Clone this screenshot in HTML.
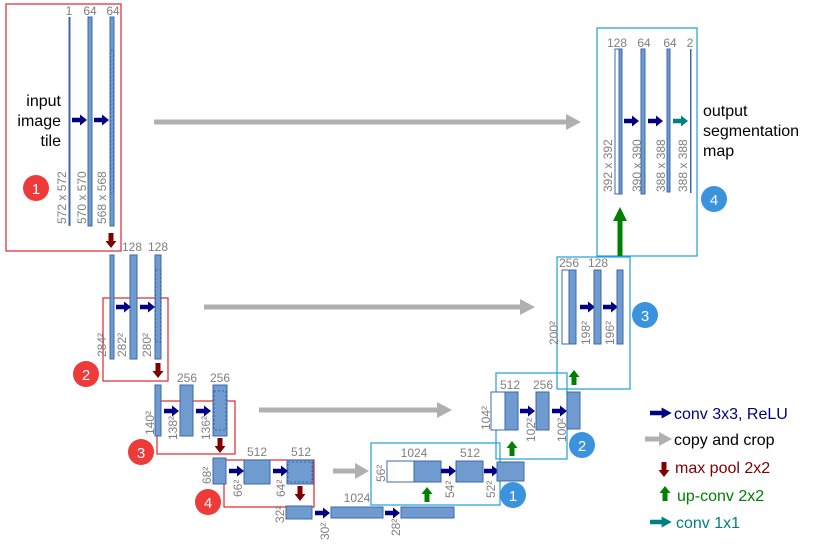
<!DOCTYPE html>
<html><head><meta charset="utf-8"><style>
html,body{margin:0;padding:0;background:#fff;}
svg{display:block;}
text{font-family:"Liberation Sans",sans-serif;}
.l{fill:#7f7f7f;font-size:12px;text-anchor:middle;}
.r{fill:#7f7f7f;font-size:12px;}
.b{fill:#6f9bd1;stroke:#3d68a8;stroke-width:1;}
.w{fill:#fff;stroke:#3d68a8;stroke-width:1;}
.d{fill:none;stroke:#3d68a8;stroke-width:1;stroke-dasharray:2,2;}
.rb{fill:none;stroke:#e0262b;stroke-width:1.2;}
.bb{fill:none;stroke:#1da1db;stroke-width:1.2;}
.t{font-size:16px;fill:#000;}
</style></head><body>
<svg width="815" height="547" viewBox="0 0 815 547" xmlns="http://www.w3.org/2000/svg">
<defs>
<polygon id="na" points="0,-2.2 8,-2.2 8,-5.5 15,0 8,5.5 8,2.2 0,2.2" fill="#000080"/>
<polygon id="ta" points="0,-2.2 8,-2.2 8,-5.5 15,0 8,5.5 8,2.2 0,2.2" fill="#008080"/>
<polygon id="da" points="-2.5,0 2.5,0 2.5,8 5.5,8 0,15 -5.5,8 -2.5,8" fill="#7f0000"/>
<polygon id="ua" points="-2.5,0 2.5,0 2.5,-8 5.5,-8 0,-15 -5.5,-8 -2.5,-8" fill="#008000"/>
</defs>

<!-- copy arrows -->
<g fill="#b0b0b0">
<rect x="154" y="119.5" width="416" height="5"/><polygon points="566,114 581,122 566,130"/>
<rect x="204" y="304.5" width="320" height="5"/><polygon points="520,299 535,307 520,315"/>
<rect x="259" y="407.5" width="182" height="5"/><polygon points="437,402 452,410 437,418"/>
<rect x="333" y="468.5" width="26" height="5"/><polygon points="355,463 369,471 355,479"/>
</g>

<!-- Level 1 -->
<rect class="rb" x="6" y="4" width="115" height="247"/>
<rect x="68.5" y="17" width="2" height="209" fill="#3d68a8"/>
<rect class="b" x="88" y="17" width="4" height="209"/>
<rect class="b" x="110" y="17" width="4" height="209"/>
<rect class="d" x="110.5" y="50" width="3" height="143"/>
<text class="l" x="69" y="15">1</text><text class="l" x="90" y="15">64</text><text class="l" x="113" y="15">64</text>
<text class="t" x="61" y="106" text-anchor="end">input</text>
<text class="t" x="61" y="126" text-anchor="end">image</text>
<text class="t" x="61" y="146" text-anchor="end">tile</text>
<use href="#na" x="72" y="120"/><use href="#na" x="94" y="120"/>
<text class="r" transform="translate(66,224) rotate(-90)">572 x 572</text>
<text class="r" transform="translate(86,224) rotate(-90)">570 x 570</text>
<text class="r" transform="translate(106,224) rotate(-90)">568 x 568</text>
<circle cx="36" cy="188" r="13" fill="#ef3a3a"/><text x="36" y="194" fill="#fff" font-size="15" text-anchor="middle">1</text>
<use href="#da" x="111" y="233"/>

<!-- Level 2 -->
<rect class="rb" x="103" y="298" width="65" height="83"/>
<rect class="b" x="110" y="255" width="4" height="104"/>
<rect class="b" x="130" y="255" width="7" height="104"/>
<rect class="b" x="155" y="255" width="6" height="104"/>
<rect class="d" x="155.5" y="270" width="5" height="72"/>
<text class="l" x="132" y="251">128</text><text class="l" x="158" y="251">128</text>
<use href="#na" x="116" y="307"/><use href="#na" x="140" y="307"/>
<text class="r" transform="translate(106,357) rotate(-90)">284²</text>
<text class="r" transform="translate(126,357) rotate(-90)">282²</text>
<text class="r" transform="translate(151,357) rotate(-90)">280²</text>
<circle cx="86" cy="374" r="13" fill="#ef3a3a"/><text x="86" y="380" fill="#fff" font-size="15" text-anchor="middle">2</text>
<use href="#da" x="158" y="363"/>

<!-- Level 3 -->
<rect class="rb" x="157" y="401" width="78" height="53"/>
<rect class="b" x="155" y="385" width="6" height="51"/>
<rect class="b" x="180" y="385" width="13" height="51"/>
<rect class="b" x="213" y="385" width="14" height="51"/>
<rect class="d" x="214" y="391" width="12" height="39"/>
<text class="l" x="187" y="382">256</text><text class="l" x="220" y="382">256</text>
<use href="#na" x="164" y="411"/><use href="#na" x="196" y="411"/>
<text class="r" transform="translate(154,435) rotate(-90)">140²</text>
<text class="r" transform="translate(177,440) rotate(-90)">138²</text>
<text class="r" transform="translate(210,440) rotate(-90)">136²</text>
<circle cx="141" cy="452" r="13" fill="#ef3a3a"/><text x="141" y="458" fill="#fff" font-size="15" text-anchor="middle">3</text>
<use href="#da" x="220" y="438"/>

<!-- Level 4 -->
<rect class="rb" x="224" y="460" width="90" height="47"/>
<rect class="b" x="213" y="458" width="13" height="26"/>
<rect class="b" x="244" y="460" width="26" height="24"/>
<rect class="b" x="287" y="460" width="26" height="24"/>
<rect class="d" x="288" y="462" width="24" height="20"/>
<text class="l" x="257" y="456">512</text><text class="l" x="301" y="456">512</text>
<use href="#na" x="229" y="471"/><use href="#na" x="273" y="471"/>
<text class="r" transform="translate(211,484) rotate(-90)">68²</text>
<text class="r" transform="translate(242,497) rotate(-90)">66²</text>
<text class="r" transform="translate(285,497) rotate(-90)">64²</text>
<circle cx="208" cy="502" r="13" fill="#ef3a3a"/><text x="208" y="508" fill="#fff" font-size="15" text-anchor="middle">4</text>
<use href="#da" x="300" y="486"/>

<!-- Bottom -->
<rect class="b" x="286" y="506" width="26" height="13"/>
<use href="#na" x="315" y="513"/>
<rect class="b" x="331" y="507" width="52" height="11"/>
<use href="#na" x="385" y="513"/>
<rect class="b" x="401" y="507" width="53" height="11"/>
<text class="l" x="357" y="502">1024</text>
<text class="r" transform="translate(284,523) rotate(-90)">32²</text>
<text class="r" transform="translate(329,540) rotate(-90)">30²</text>
<text class="r" transform="translate(400,536) rotate(-90)">28²</text>

<!-- Up level 4 -->
<rect class="bb" x="371" y="443" width="129" height="62"/>
<rect class="w" x="387" y="461" width="27" height="21"/>
<rect class="b" x="414" y="461" width="27" height="21"/>
<text class="l" x="414" y="457">1024</text>
<use href="#na" x="441" y="471"/>
<rect class="b" x="456" y="461" width="27" height="21"/>
<text class="l" x="470" y="457">512</text>
<use href="#na" x="484" y="471"/>
<rect class="b" x="497" y="462" width="27" height="19"/>
<use href="#ua" x="427" y="502"/>
<text class="r" transform="translate(385,482) rotate(-90)">56²</text>
<text class="r" transform="translate(454,498) rotate(-90)">54²</text>
<text class="r" transform="translate(495,498) rotate(-90)">52²</text>
<circle cx="513" cy="495" r="13" fill="#3a93dc"/><text x="513" y="501" fill="#fff" font-size="15" text-anchor="middle">1</text>

<!-- Up level 3 -->
<rect class="bb" x="496" y="373" width="71" height="86"/>
<rect class="w" x="491" y="392" width="14" height="38"/>
<rect class="b" x="505" y="392" width="13" height="38"/>
<text class="l" x="510" y="389">512</text>
<use href="#na" x="520" y="411"/>
<rect class="b" x="536" y="392" width="13" height="38"/>
<text class="l" x="543" y="389">256</text>
<use href="#na" x="552" y="411"/>
<rect class="b" x="567" y="392" width="13" height="37"/>
<use href="#ua" x="512" y="456"/>
<text class="r" transform="translate(490,430) rotate(-90)">104²</text>
<text class="r" transform="translate(535,442) rotate(-90)">102²</text>
<text class="r" transform="translate(566,442) rotate(-90)">100²</text>
<circle cx="582" cy="445" r="13" fill="#3a93dc"/><text x="582" y="451" fill="#fff" font-size="15" text-anchor="middle">2</text>

<!-- Up level 2 -->
<rect class="bb" x="557" y="257" width="73" height="132"/>
<rect class="w" x="562" y="270" width="7" height="74"/>
<rect class="b" x="569" y="270" width="7" height="74"/>
<text class="l" x="569" y="267">256</text>
<use href="#na" x="580" y="307"/>
<rect class="b" x="594" y="270" width="7" height="74"/>
<text class="l" x="598" y="267">128</text>
<use href="#na" x="603" y="307"/>
<rect class="b" x="617" y="270" width="6" height="74"/>
<use href="#ua" x="574" y="385"/>
<text class="r" transform="translate(558,345) rotate(-90)">200²</text>
<text class="r" transform="translate(590,345) rotate(-90)">198²</text>
<text class="r" transform="translate(614,345) rotate(-90)">196²</text>
<circle cx="645" cy="315" r="13" fill="#3a93dc"/><text x="645" y="321" fill="#fff" font-size="15" text-anchor="middle">3</text>

<!-- Up level 1 -->
<rect class="bb" x="597" y="28" width="100" height="228"/>
<rect class="w" x="615" y="49" width="4" height="145"/>
<rect class="b" x="619" y="49" width="3" height="145"/>
<text class="l" x="617" y="47">128</text>
<use href="#na" x="624" y="121"/>
<rect class="b" x="641" y="49" width="4" height="145"/>
<text class="l" x="644" y="47">64</text>
<use href="#na" x="648" y="121"/>
<rect class="b" x="667" y="49" width="3" height="143"/>
<text class="l" x="670" y="47">64</text>
<use href="#ta" x="673" y="121"/>
<rect x="690" y="49" width="1.5" height="144" fill="#3d68a8"/>
<text class="l" x="690" y="47">2</text>
<text class="r" transform="translate(612,192) rotate(-90)">392 x 392</text>
<text class="r" transform="translate(641,192) rotate(-90)">390 x 390</text>
<text class="r" transform="translate(665,192) rotate(-90)">388 x 388</text>
<text class="r" transform="translate(687,192) rotate(-90)">388 x 388</text>
<g fill="#008000"><rect x="617.5" y="220" width="5" height="36"/><polygon points="613,221 620,207 627,221"/></g>
<circle cx="714" cy="199" r="13" fill="#3a93dc"/><text x="714" y="205" fill="#fff" font-size="15" text-anchor="middle">4</text>
<text class="t" x="703" y="116">output</text>
<text class="t" x="703" y="136">segmentation</text>
<text class="t" x="703" y="156">map</text>

<!-- Legend -->
<g transform="translate(650,413) scale(1.45,1)"><use href="#na"/></g>
<text x="674" y="419" font-size="16" fill="#000080">conv 3x3, ReLU</text>
<g fill="#b0b0b0"><rect x="645" y="436.5" width="16" height="5"/><polygon points="659,432 672,439 659,446"/></g>
<text x="674" y="445" font-size="16" fill="#000">copy and crop</text>
<use href="#da" x="664" y="462"/>
<text x="675" y="473" font-size="16" fill="#7f0000">max pool 2x2</text>
<use href="#ua" x="665" y="501"/>
<text x="677" y="501" font-size="16" fill="#008000">up-conv 2x2</text>
<g transform="translate(650,522) scale(1.45,1)"><use href="#ta"/></g>
<text x="676" y="528" font-size="16" fill="#008080">conv 1x1</text>
</svg>
</body></html>
